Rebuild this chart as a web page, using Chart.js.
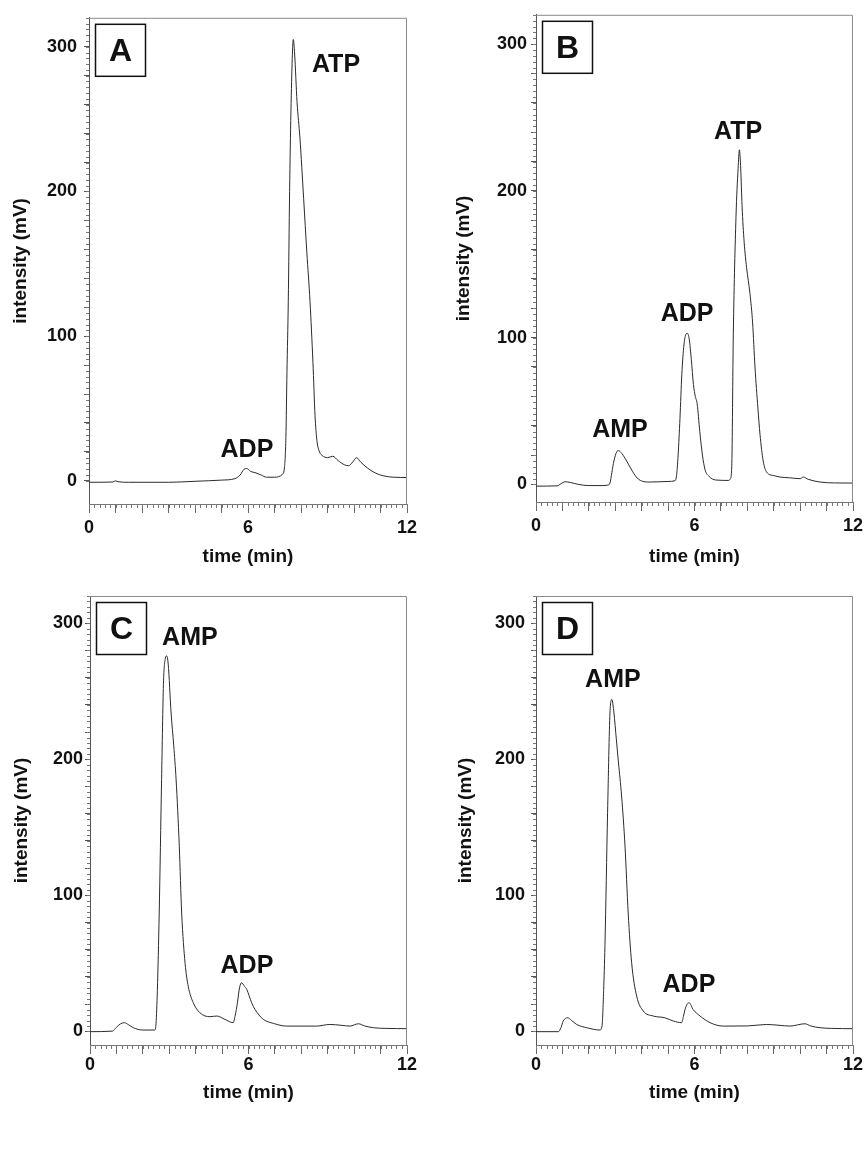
<!DOCTYPE html>
<html>
<head>
<meta charset="utf-8">
<script src="https://cdn.jsdelivr.net/npm/chart.js@4.4.0/dist/chart.umd.min.js"></script>
<style>
  body { margin: 0; background: #fff; }
  #wrap { position: relative; width: 865px; height: 1150px; background: #fff; overflow: hidden; }
  .panel { position: absolute; }
</style>
</head>
<body>
<div id="wrap">
  <div class="panel" style="left:0;top:0"><canvas id="chartA" width="430" height="575"></canvas></div>
  <div class="panel" style="left:430px;top:0"><canvas id="chartB" width="435" height="575"></canvas></div>
  <div class="panel" style="left:0;top:575px"><canvas id="chartC" width="430" height="575"></canvas></div>
  <div class="panel" style="left:430px;top:575px"><canvas id="chartD" width="435" height="575"></canvas></div>
</div>
<script>
// Chromatogram traces (time in min, intensity in mV)
const timeA = [0, 0.9, 1.0, 1.1, 1.5, 3.0, 4.0, 5.0, 5.5, 5.7, 5.85, 5.95, 6.1, 6.3, 6.5, 6.7, 7.0, 7.3,
    7.38, 7.43, 7.47, 7.52, 7.57, 7.62, 7.67, 7.71, 7.76, 7.85, 7.96, 8.1, 8.22, 8.34, 8.45, 8.53, 8.6,
    8.7, 8.8, 9.0, 9.2, 9.4, 9.65, 9.8, 9.95, 10.1, 10.25, 10.5, 10.8, 11.1, 11.5, 12];
const signalA = [-1, -0.8, 0, -0.6, -1, -1, -0.3, 0.5, 1.5, 4, 8, 8.5, 6.5, 5.5, 4, 2.5, 2.5, 4.5,
    10, 30, 75, 124, 200, 255, 292, 305, 295, 262, 237, 195, 158, 124, 82, 45, 28,
    20, 17.5, 16, 17, 14, 11, 10.5, 13, 16, 13, 9, 5.5, 3.5, 2.5, 2.3];

const timeB = [0, 0.8, 0.95, 1.1, 1.3, 1.6, 2.0, 2.5, 2.72, 2.8, 2.87, 2.95, 3.05, 3.12, 3.25, 3.43, 3.6,
    3.8, 3.95, 4.3, 5.0, 5.26, 5.32, 5.38, 5.45, 5.52, 5.6, 5.68, 5.73, 5.8, 5.88, 5.96, 6.03, 6.1, 6.2,
    6.3, 6.4, 6.55, 6.8, 7.3, 7.36, 7.41, 7.47, 7.57, 7.65, 7.7, 7.75, 7.8, 7.88, 7.97, 8.1, 8.2, 8.29,
    8.4, 8.48, 8.6, 8.73, 9.0, 9.24, 9.6, 10.0, 10.12, 10.3, 10.75, 11.3, 12];
const signalB = [-1.2, -1, 0.5, 1.8, 1.3, 0, -0.8, -0.8, -0.5, 1, 8, 16, 22, 23, 21, 16, 10.5,
    5, 2.7, 1.6, 2, 2.5, 6, 20, 45, 75, 95, 102.5, 103, 99, 85, 68, 60, 55, 36,
    20, 10, 5.5, 3, 2.7, 4, 12, 103, 182, 215, 228, 215, 190, 165, 148, 130, 110, 80,
    52, 34, 16, 8.4, 6, 5, 4.5, 3.9, 5, 3.5, 1.6, 1, 0.9];

const timeC = [0, 0.85, 1.0, 1.15, 1.3, 1.45, 1.64, 2.0, 2.46, 2.5, 2.55, 2.62, 2.71, 2.78, 2.85, 2.9,
    2.96, 3.07, 3.17, 3.26, 3.38, 3.47, 3.6, 3.72, 3.91, 4.16, 4.54, 4.8, 5.11, 5.42, 5.5, 5.58, 5.66,
    5.74, 5.85, 5.93, 6.12, 6.25, 6.4, 6.56, 6.94, 7.44, 8.58, 9.08, 9.5, 9.84, 10.16, 10.4, 10.73, 11.2, 12];
const signalC = [-0.2, 0.2, 3, 5.5, 6.4, 5, 2.7, 1, 1, 6, 30, 87, 185, 255, 274, 276,
    270, 234, 210, 185, 136, 87, 50, 33, 21, 13.7, 10.8, 11.3, 8.8, 6.4, 12, 21, 32,
    35.8, 33, 31, 21, 16, 12, 8.8, 5.9, 3.9, 3.9, 5.1, 4.5, 3.9, 5.6, 4, 2.7, 2.2, 2];

const timeD = [0, 0.85, 0.95, 1.03, 1.2, 1.35, 1.54, 1.92, 2.42, 2.5, 2.56, 2.61, 2.71, 2.8, 2.87, 2.95,
    3.04, 3.12, 3.24, 3.37, 3.49, 3.62, 3.81, 4.06, 4.44, 4.88, 5.2, 5.51, 5.58, 5.64, 5.72, 5.8, 5.95,
    6.21, 6.59, 7.09, 8.0, 8.73, 9.2, 9.61, 10.18, 10.4, 10.75, 11.2, 12];
const signalD = [-0.2, -0.2, 3, 7.6, 10, 8, 5.1, 2.7, 1, 4, 30, 63, 161, 234, 244, 234,
    215, 198, 173, 136, 87, 50.5, 26, 15, 11.3, 10, 7.6, 6.4, 11, 16, 20, 21, 16,
    11.3, 6.4, 3.9, 4, 5.1, 4.5, 3.9, 5.6, 4, 2.7, 2.2, 2];

// Peak annotations (name, anchored in data units)
const peakNamesA = ['ADP', 'ATP'];
const peakTimesA = [5.96, 9.32];
const peakLevelsA = [22, 288];
const peakNamesB = ['AMP', 'ADP', 'ATP'];
const peakTimesB = [3.18, 5.72, 7.65];
const peakLevelsB = [38, 117, 241];
const peakNamesC = ['AMP', 'ADP'];
const peakTimesC = [3.78, 5.94];
const peakLevelsC = [290, 49];
const peakNamesD = ['AMP', 'ADP'];
const peakTimesD = [2.91, 5.79];
const peakLevelsD = [259, 35];

// Axis ticks
const xTickValues = [0, 1, 2, 3, 4, 5, 6, 7, 8, 9, 10, 11, 12];
const xTickLabels = [0, 6, 12];
const yTickValues = [0, 20, 40, 60, 80, 100, 120, 140, 160, 180, 200, 220, 240, 260, 280, 300];
const yTickLabels = [0, 100, 200, 300];

const FONT = "'Liberation Sans', Arial, sans-serif";

const panels = [
    { id: 'chartA', letter: 'A', time: timeA, signal: signalA, names: peakNamesA, pt: peakTimesA, pl: peakLevelsA,
      yMin: -16, yWidth: 89, padRight: 23, padTop: 15, xHeight: 71, yTickPad: 7, xTickPad: 4, xTitlePad: 7, yTitlePad: 9 },
    { id: 'chartB', letter: 'B', time: timeB, signal: signalB, names: peakNamesB, pt: peakTimesB, pl: peakLevelsB,
      yMin: -12, yWidth: 106, padRight: 12, padTop: 14, xHeight: 73, yTickPad: 4, xTickPad: 4, xTitlePad: 7, yTitlePad: 22 },
    { id: 'chartC', letter: 'C', time: timeC, signal: signalC, names: peakNamesC, pt: peakTimesC, pl: peakLevelsC,
      yMin: -10, yWidth: 90, padRight: 23, padTop: 21, xHeight: 105, yTickPad: 2, xTickPad: 0, xTitlePad: 46, yTitlePad: 10 },
    { id: 'chartD', letter: 'D', time: timeD, signal: signalD, names: peakNamesD, pt: peakTimesD, pl: peakLevelsD,
      yMin: -10, yWidth: 106, padRight: 12, padTop: 21, xHeight: 105, yTickPad: 6, xTickPad: 0, xTitlePad: 46, yTitlePad: 24 }
];

// Frame, minor ticks, panel letter and peak names
const decorations = {
    id: 'decorations',
    afterDraw(chart, args, opts) {
        const { ctx, chartArea: a, scales: { x, y } } = chart;
        ctx.save();
        // top and right frame
        ctx.strokeStyle = '#8a8a8a';
        ctx.lineWidth = 1;
        ctx.beginPath();
        ctx.moveTo(a.left, a.top + 0.5);
        ctx.lineTo(a.right - 0.5, a.top + 0.5);
        ctx.lineTo(a.right - 0.5, a.bottom);
        ctx.stroke();

        // minor ticks
        ctx.strokeStyle = '#777';
        ctx.beginPath();
        for (let i = 0; i <= 60; i++) {
            const px = Math.round(x.getPixelForValue(i * 0.2)) + 0.5;
            ctx.moveTo(px, a.bottom);
            ctx.lineTo(px, a.bottom + 4);
        }
        for (let v = 0; v <= 320; v += 4) {
            const py = Math.round(y.getPixelForValue(v)) + 0.5;
            ctx.moveTo(a.left - 3, py);
            ctx.lineTo(a.left, py);
        }
        ctx.stroke();

        // panel letter box
        ctx.strokeStyle = '#111';
        ctx.lineWidth = 1.5;
        ctx.strokeRect(a.left + 6.5, a.top + 6.5, 50, 52);
        ctx.fillStyle = '#111';
        ctx.font = 'bold 32px ' + FONT;
        ctx.textAlign = 'center';
        ctx.textBaseline = 'middle';
        ctx.fillText(opts.letter, a.left + 31.5, a.top + 34);

        // peak names
        ctx.font = 'bold 25px ' + FONT;
        opts.names.forEach((name, i) => {
            ctx.fillText(name, x.getPixelForValue(opts.pt[i]), y.getPixelForValue(opts.pl[i]) + 1);
        });
        ctx.restore();
    }
};

panels.forEach(p => {
    const points = p.time.map((t, i) => ({ x: t, y: p.signal[i] }));
    new Chart(document.getElementById(p.id), {
        type: 'line',
        data: {
            datasets: [{
                data: points,
                borderColor: '#2b2b2b',
                borderWidth: 1,
                pointRadius: 0,
                fill: false,
                cubicInterpolationMode: 'monotone'
            }]
        },
        options: {
            responsive: false,
            animation: false,
            layout: { padding: { top: p.padTop, right: p.padRight, left: 0, bottom: 0 } },
            plugins: {
                legend: { display: false },
                tooltip: { enabled: false },
                decorations: { letter: p.letter, names: p.names, pt: p.pt, pl: p.pl }
            },
            scales: {
                x: {
                    type: 'linear',
                    min: 0,
                    max: 12,
                    afterBuildTicks: s => { s.ticks = xTickValues.map(v => ({ value: v })); },
                    afterFit: s => { s.height = p.xHeight; s.paddingLeft = 0; s.paddingRight = 0; },
                    ticks: {
                        autoSkip: false,
                        maxRotation: 0,
                        padding: p.xTickPad,
                        color: '#111',
                        font: { family: FONT, size: 18, weight: 'bold' },
                        callback: v => xTickLabels.includes(v) ? String(v) : ''
                    },
                    grid: { drawOnChartArea: false, tickLength: 9, color: '#666' },
                    border: { display: true, color: '#777', width: 1 },
                    title: {
                        display: true,
                        text: 'time (min)',
                        color: '#111',
                        font: { family: FONT, size: 19, weight: 'bold' },
                        padding: { top: 0, bottom: p.xTitlePad }
                    }
                },
                y: {
                    type: 'linear',
                    min: p.yMin,
                    max: 320,
                    afterBuildTicks: s => { s.ticks = yTickValues.map(v => ({ value: v })); },
                    afterFit: s => { s.width = p.yWidth; },
                    ticks: {
                        autoSkip: false,
                        padding: p.yTickPad,
                        color: '#111',
                        font: { family: FONT, size: 18, weight: 'bold' },
                        callback: v => yTickLabels.includes(v) ? String(v) : ''
                    },
                    grid: { drawOnChartArea: false, tickLength: 5, color: '#555' },
                    border: { display: true, color: '#555', width: 1 },
                    title: {
                        display: true,
                        text: 'intensity (mV)',
                        color: '#111',
                        font: { family: FONT, size: 19, weight: 'bold' },
                        padding: { top: p.yTitlePad, bottom: 0 }
                    }
                }
            }
        },
        plugins: [decorations]
    });
});
</script>
</body>
</html>
